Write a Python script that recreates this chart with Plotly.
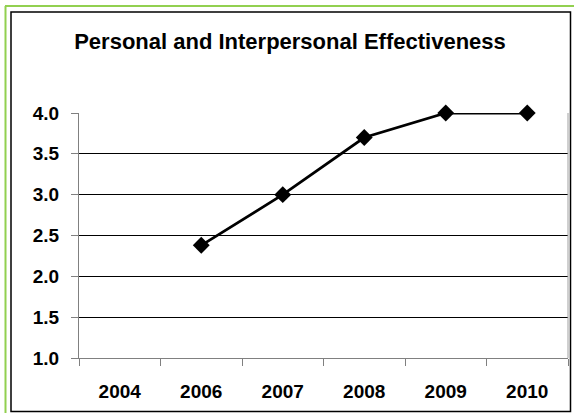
import plotly.graph_objects as go

categories = ["2004", "2006", "2007", "2008", "2009", "2010"]
values = [None, 2.38, 3.0, 3.7, 4.0, 4.0]
y_ticks = [1.0, 1.5, 2.0, 2.5, 3.0, 3.5, 4.0]
title_text = "Personal and Interpersonal Effectiveness"

W, H = 574, 413
L, R, T, B = 79, 568, 113, 358
pw, ph = R - L, B - T
FONT = "Liberation Sans, Arial, sans-serif"

def px(x):
    return (x - L) / pw

def py(y):
    return (B - y) / ph

fig = go.Figure()
fig.add_trace(go.Scatter(
    x=categories, y=values, mode="lines+markers",
    line=dict(color="black", width=2.75),
    marker=dict(symbol="diamond", size=13, color="black"),
    connectgaps=False, showlegend=False, hoverinfo="skip",
    cliponaxis=False,
))

fig.update_layout(
    width=W, height=H,
    margin=dict(l=L, r=W - R, t=T, b=H - B, pad=0),
    paper_bgcolor="white", plot_bgcolor="white",
    font=dict(family=FONT, color="black"),
    title=dict(text="<b>" + title_text + "</b>", x=px(290), xref="paper",
               xanchor="center", y=1 - 41.5 / H, yanchor="middle",
               font=dict(size=22, family=FONT, color="black")),
    xaxis=dict(
        type="category", categoryorder="array", categoryarray=categories,
        tickvals=categories, ticktext=["<b>%s</b>" % c for c in categories],
        tickson="boundaries", ticks="outside", ticklen=7, tickcolor="#808080",
        tickwidth=1, showline=True, linecolor="#808080", linewidth=1,
        showgrid=False, zeroline=False,
        tickfont=dict(size=19, family=FONT, color="black"),
        ticklabelstandoff=16,
        range=[-0.5, 5.5],
    ),
    yaxis=dict(
        range=[1.0, 4.0], tickvals=y_ticks,
        ticktext=["<b>%.1f</b>" % v for v in y_ticks],
        ticks="outside", ticklen=7, tickcolor="#808080", tickwidth=1,
        showline=True, linecolor="#808080", linewidth=1,
        showgrid=True, gridcolor="black", gridwidth=1, zeroline=False,
        tickfont=dict(size=19, family=FONT, color="black"),
        ticklabelstandoff=8,
    ),
)

# plot area right border (gray)
fig.add_shape(type="line", xref="paper", yref="paper", x0=1, x1=1, y0=0, y1=1,
              line=dict(color="#A0A0A0", width=1))
# black chart frame
fig.add_shape(type="rect", xref="paper", yref="paper",
              x0=px(11), x1=px(570.5), y0=py(411.5), y1=py(12),
              line=dict(color="black", width=1.5), layer="below")
# green outer lines (top and left)
fig.add_shape(type="line", xref="paper", yref="paper",
              x0=px(5), x1=px(574), y0=py(6), y1=py(6),
              line=dict(color="#92D050", width=2))
fig.add_shape(type="line", xref="paper", yref="paper",
              x0=px(5.5), x1=px(5.5), y0=py(413), y1=py(6),
              line=dict(color="#92D050", width=2))

fig.write_html("out.html", config={"displayModeBar": False},
               post_script="document.body.style.margin='0';")
